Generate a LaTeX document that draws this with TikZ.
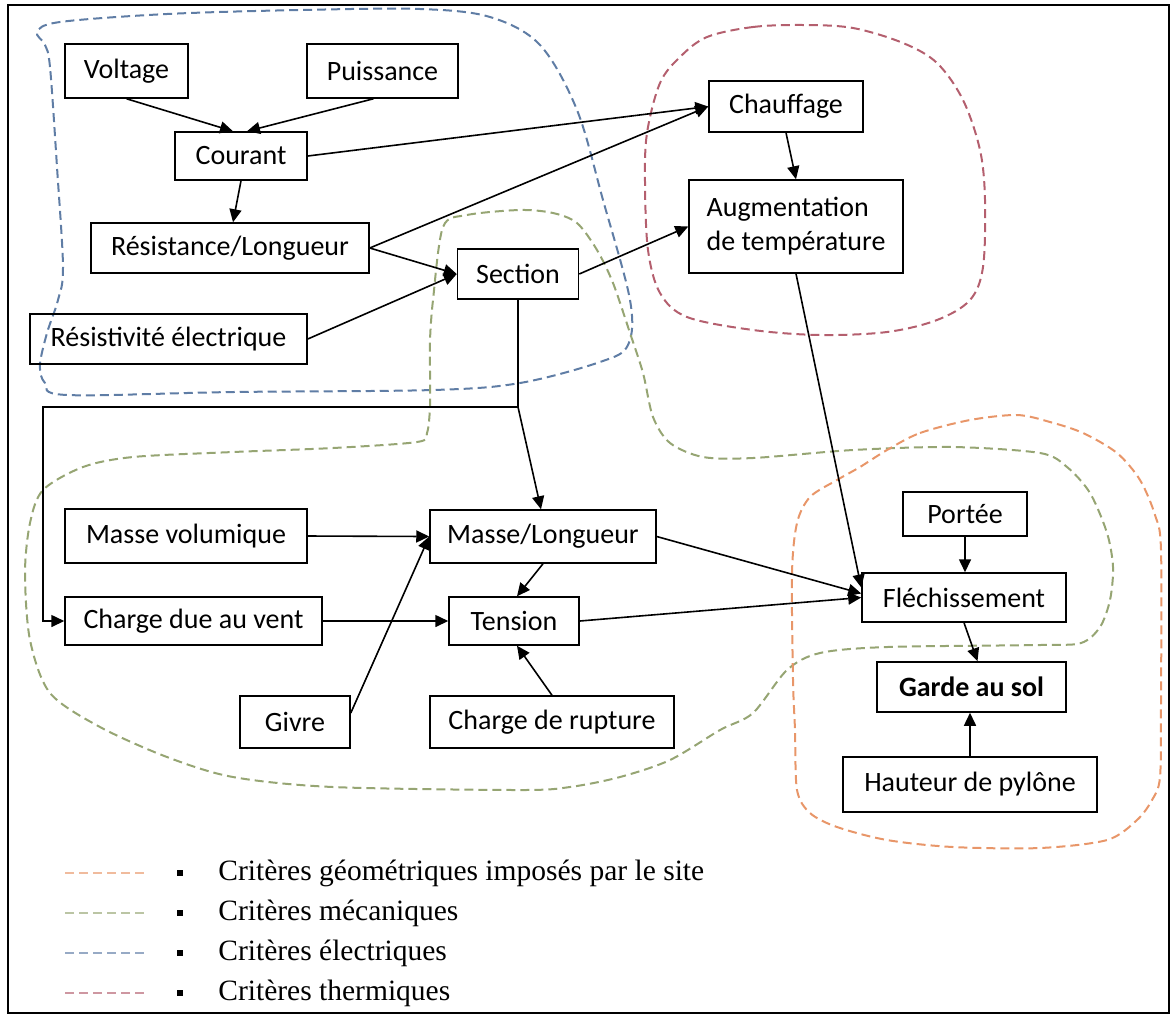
\documentclass[tikz,border=0pt]{standalone}
\usepackage{fontspec}
\setmainfont{Carlito}
\newfontfamily\legfont{Liberation Serif}
\usepackage{xcolor}
\usetikzlibrary{arrows.meta, positioning, calc}
\definecolor{elecblue}{RGB}{95,125,165}
\definecolor{thermred}{RGB}{180,95,110}
\definecolor{mecagreen}{RGB}{150,165,115}
\definecolor{geoorange}{RGB}{232,150,105}

\begin{document}
\begin{tikzpicture}[x=0.5pt, y=-0.5pt,
    box/.style={draw, line width=0.75pt, inner sep=2pt, font=\fontsize{14}{17}\selectfont},
    arr/.style={line width=0.8pt, -{Triangle[length=6.5pt, width=6pt]}},
    crit/.style={draw=#1, line width=1pt, dash pattern=on 4.5pt off 2.5pt}]
    \useasboundingbox (0,0) rectangle (1170,1018);
    \draw[line width=0.75pt] (8,5) rectangle (1169,1013);

    \draw[crit=elecblue] plot[smooth cycle, tension=0.55] coordinates {
        (57,167) (50,67) (45,45) (37,32) (60,22) (167,14) (300,10) (420,9)
        (490,17) (540,45) (577,110) (603,200) (630,300) (628,345) (600,362)
        (520,383) (433,390) (233,392) (67,395) (45,383) (40,365) (47,333)
        (58,300) (63,267)};
    \draw[crit=thermred] plot[smooth cycle, tension=0.55] coordinates {
        (707,37) (753,27) (803,25) (853,28) (903,43) (937,63) (963,100)
        (980,150) (985,200) (983,267) (970,300) (937,320) (887,332) (820,335)
        (753,330) (687,317) (660,293) (648,250) (645,183) (647,133) (660,83)
        (680,57)};
    \draw[crit=mecagreen] plot[smooth cycle, tension=0.5] coordinates {
        (443,227) (467,215) (520,210) (553,213) (577,223) (597,250) (613,283)
        (630,333) (643,373) (653,417) (670,443) (703,457) (753,458) (853,450)
        (953,447) (1040,453) (1067,467) (1090,493) (1107,533) (1113,567)
        (1110,600) (1100,627) (1081,643) (1040,645) (887,647) (820,653)
        (787,670) (753,713) (720,730) (670,760) (620,777) (570,787) (520,790)
        (333,787) (233,777) (167,757) (100,727) (50,693) (30,640) (25,573)
        (30,523) (43,490) (83,467) (133,457) (233,452) (333,448) (417,442)
        (427,433) (430,407) (430,373) (430,340) (433,300)};
    \draw[crit=geoorange] plot[smooth cycle, tension=0.5] coordinates {
        (887,450) (920,433) (970,420) (1017,415) (1050,422) (1083,433)
        (1117,453) (1140,480) (1155,515) (1161,550) (1161,700) (1160,777)
        (1152,800) (1137,820) (1107,840) (1040,848) (953,847) (887,840)
        (837,827) (810,813) (797,790) (795,730) (793,680) (792,573) (797,523)
        (810,497) (837,480) (860,467)};

    \node[box, minimum width=61.5pt, minimum height=27pt] (volt) at (126.5,71) {Voltage};
    \node[box, minimum width=75.5pt, minimum height=27pt] (puis) at (382.5,71) {Puissance};
    \node[box, minimum width=66pt, minimum height=24pt] (cour) at (241,156) {Courant};
    \node[box, minimum width=139pt, minimum height=25pt] (resl) at (230,248) {Résistance/Longueur};
    \node[box, minimum width=60.5pt, minimum height=25pt] (sect) at (518,274) {Section};
    \node[box, minimum width=138.5pt, minimum height=25pt] (resv) at (168.5,339) {Résistivité électrique};
    \node[box, minimum width=77pt, minimum height=25.5pt] (chau) at (786,106.5) {Chauffage};
    \node[box, minimum width=107pt, minimum height=46.5pt, align=left] (augm) at (796,226.5) {Augmentation\\de température};
    \node[box, minimum width=121pt, minimum height=27pt] (masv) at (186,536) {Masse volumique};
    \node[box, minimum width=113pt, minimum height=26.5pt] (masl) at (543,536.5) {Masse/Longueur};
    \node[box, minimum width=128.5pt, minimum height=24pt] (chvt) at (193.5,621) {Charge due au vent};
    \node[box, minimum width=65pt, minimum height=24pt] (tens) at (514,621) {Tension};
    \node[box, minimum width=55pt, minimum height=26pt] (givr) at (295,722) {Givre};
    \node[box, minimum width=122pt, minimum height=26pt] (chru) at (552,722) {Charge de rupture};
    \node[box, minimum width=62pt, minimum height=22pt] (port) at (965,514) {Portée};
    \node[box, minimum width=102pt, minimum height=24.5pt] (flec) at (964,597.5) {Fléchissement};
    \node[box, minimum width=94.5pt, minimum height=25pt, font=\fontsize{14}{17}\selectfont\bfseries] (gard) at (971.5,687) {Garde au sol};
    \node[box, minimum width=127pt, minimum height=27.5pt] (haut) at (970,784.5) {Hauteur de pylône};

    \coordinate (jn) at (518,407);
    \coordinate (bend) at (43,407);

    \draw[arr] (volt.south) -- ([xshift=-4pt]cour.north);
    \draw[arr] ([xshift=-4.5pt]puis.south) -- ([xshift=3pt]cour.north);
    \draw[arr] (cour.south) -- ([xshift=1.5pt]resl.north);
    \draw[arr] (cour.east) -- (chau.west);
    \draw[arr] (resl.east) -- (chau.west);
    \draw[arr] (resl.east) -- (sect.west);
    \draw[arr] (resv.east) -- (sect.west);
    \draw[arr] (sect.east) -- (augm.west);
    \draw[arr] (chau.south) -- (augm.north);
    \draw[arr] (augm.south) -- ([yshift=5pt]flec.west);
    \draw[arr] (sect.south) -- (jn) -- (bend) |- (chvt.west);
    \draw[arr] (jn) -- ([xshift=-1pt]masl.north);
    \draw[arr] (masv.east) -- (masl.west);
    \draw[arr] ([yshift=4.5pt]givr.east) -- (masl.west);
    \draw[arr] (masl.south) -- ([xshift=1.5pt]tens.north);
    \draw[arr] (chvt.east) -- (tens.west);
    \draw[arr] (chru.north) -- ([xshift=1.5pt]tens.south);
    \draw[arr] (masl.east) -- ([yshift=2pt]flec.west);
    \draw[arr] (tens.east) -- (flec.west);
    \draw[arr] (port.south) -- (port.south |- flec.north);
    \draw[arr] (flec.south) -- ([xshift=3pt]gard.north);
    \draw[arr] (haut.north) -- (haut.north |- gard.south);

    \foreach \col/\txt [count=\i] in {geoorange/Critères géométriques imposés par le site,
        mecagreen/Critères mécaniques, elecblue/Critères électriques, thermred/Critères thermiques}{
        \pgfmathsetmacro\ly{873+40*(\i-1)}
        \draw[crit=\col!65, line width=0.75pt] (65,\ly) -- (145,\ly);
        \node[fill, inner sep=0pt, minimum size=3pt] (bul\i) at (180,\ly) {};
        \node[anchor=west, inner sep=0pt, font=\legfont\fontsize{14.75}{17}\selectfont] (leg\i) at (218,\ly) {\txt};
    }
\end{tikzpicture}
\end{document}
